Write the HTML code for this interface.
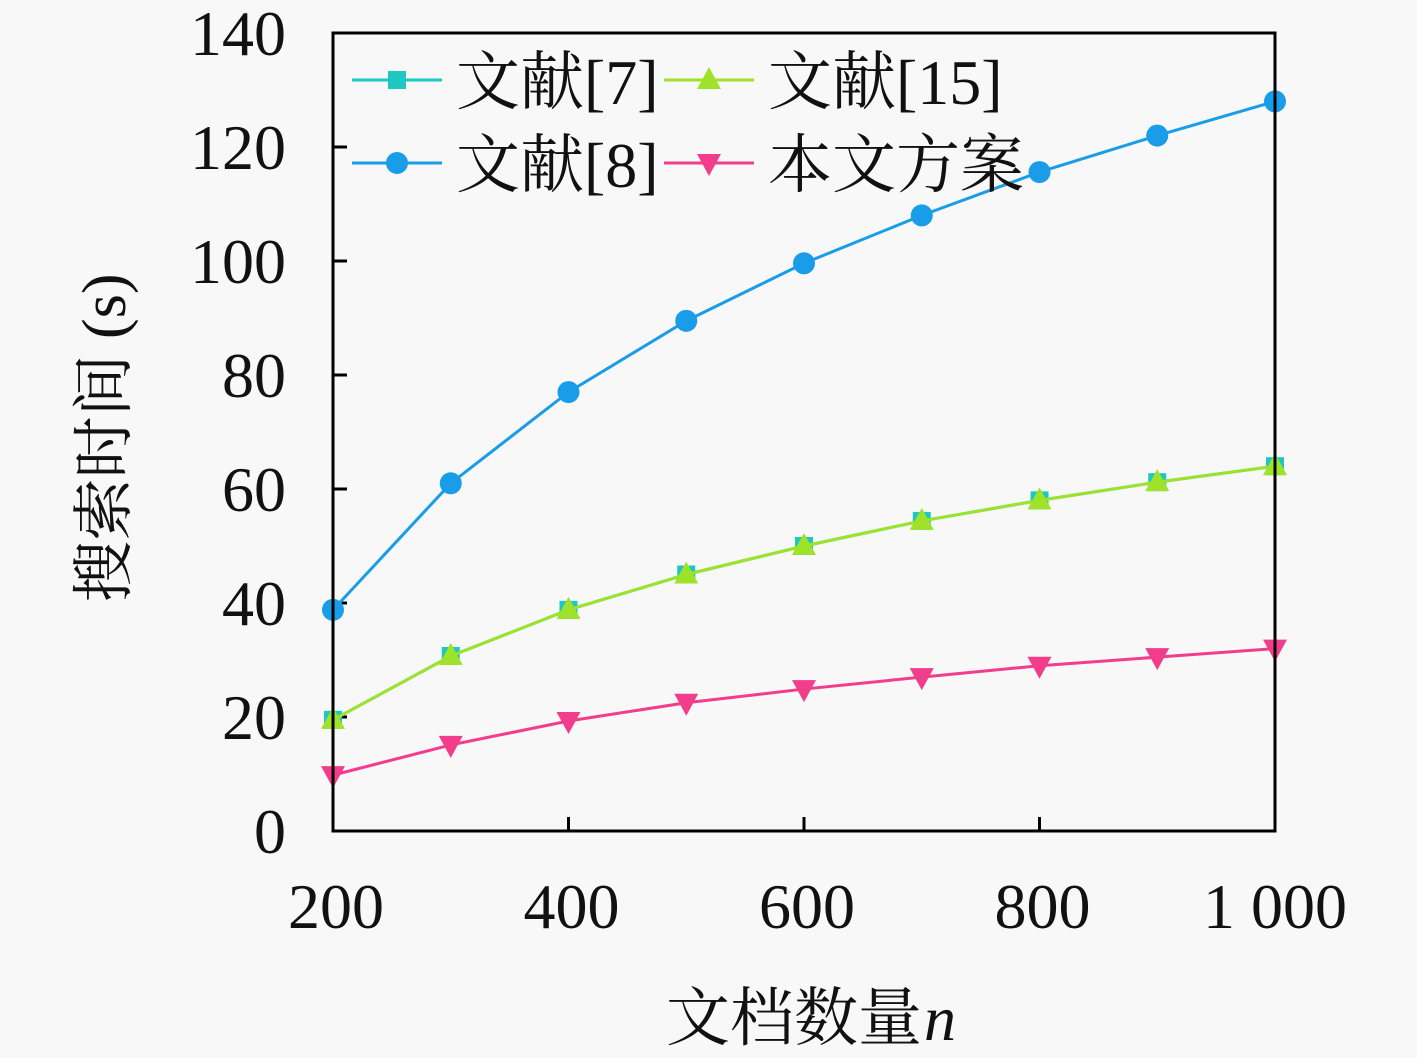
<!DOCTYPE html>
<html><head><meta charset="utf-8"><style>
html,body{margin:0;padding:0;background:#f8f8f8;}
svg{display:block;}
text{font-family:"Liberation Serif","Noto Serif CJK SC",serif;fill:#111;}
</style></head><body>
<svg id="chart" width="1417" height="1058" viewBox="0 0 1417 1058">
<rect x="0" y="0" width="1417" height="1058" fill="#f8f8f8"/>
<g id="grid"></g>
<g id="series"></g>
<rect x="333" y="33" width="942" height="798" fill="none" stroke="#000" stroke-width="3"/>
<text x="922" y="1040" font-size="64" text-anchor="end">文档数量</text>
<text x="924" y="1040" font-size="64" font-style="italic">n</text>
<text transform="translate(125,438) rotate(-90)" font-size="62" text-anchor="middle">搜索时间 (s)</text>
<g id="legend"></g>
</svg>
<script>
const xCats=[200,300,400,500,600,700,800,900,1000];
const xTicks=[200,400,600,800,1000];
const xTickLabels=["200","400","600","800","1 000"];
const yTicks=[0,20,40,60,80,100,120,140];
const ref7=[19.5,30.7,38.8,45,50,54.4,58,61.2,64];
const ref8=[38.8,61,77,89.5,99.6,108,115.6,122,128];
const ref15=[19.5,30.7,38.8,45,50,54.4,58,61.2,64];
const ours=[9.8,15.1,19.3,22.5,24.9,27,29,30.5,32];
const NS="http://www.w3.org/2000/svg";
const X0=333,X1=1275,Y0=831,Y1=33;
function sx(v){return X0+(v-200)/800*(X1-X0);}
function sy(v){return Y0-v/140*(Y0-Y1);}
function mk(tag,attrs,parent){const e=document.createElementNS(NS,tag);for(const k in attrs)e.setAttribute(k,attrs[k]);parent.appendChild(e);return e;}
const grid=document.getElementById('grid');
yTicks.forEach(v=>{
  const l=mk('line',{x1:X0,x2:X0+14,y1:sy(v),y2:sy(v),stroke:'#000','stroke-width':3},grid);
  
  
  const t=mk('text',{x:286,y:sy(v)+22,'font-size':64,'text-anchor':'end'},grid);
  t.textContent=v;
  
  
});
xTicks.forEach((v,i)=>{
  const l=mk('line',{x1:sx(v),x2:sx(v),y1:Y0,y2:Y0-14,stroke:'#000','stroke-width':3},grid);
  
  
  const t=mk('text',{x:sx(v)+(i==4?0:3),y:928,'font-size':64,'text-anchor':'middle'},grid);
  t.textContent=xTickLabels[i];
  
  
});
function marker(type,x,y,color,parent){
  let e;
  if(type==='sq') e=mk('rect',{x:x-9,y:y-9,width:18,height:18,fill:color},parent);
  else if(type==='ci') e=mk('circle',{cx:x,cy:y,r:11,fill:color},parent);
  else if(type==='up') e=mk('polygon',{points:`${x},${y-13} ${x-12},${y+9} ${x+12},${y+9}`,fill:color},parent);
  else e=mk('polygon',{points:`${x},${y+13} ${x-12},${y-9} ${x+12},${y-9}`,fill:color},parent);
  return e;
}
const seriesList=[
 {name:'ref7',data:ref7,color:'#1cc7c4',m:'sq'},
 {name:'ref15',data:ref15,color:'#9ee22a',m:'up'},
 {name:'ref8',data:ref8,color:'#1a9de8',m:'ci'},
 {name:'ours',data:ours,color:'#f23c8c',m:'dn'}
];
const sg=document.getElementById('series');
seriesList.forEach(s=>{
  const g=mk('g',{},sg);
  
  
  const pl=mk('polyline',{points:s.data.map((v,i)=>sx(xCats[i])+','+sy(v)).join(' '),fill:'none',stroke:s.color,'stroke-width':3},g);
  
  
  s.data.forEach((v,i)=>{
    const m=marker(s.m,sx(xCats[i]),sy(v),s.color,g);
    
    
  });
});
const lg=document.getElementById('legend');
const entries=[
 {label:'文献[7]',color:'#1cc7c4',m:'sq',x:352,y:80},
 {label:'文献[15]',color:'#9ee22a',m:'up',x:664,y:80},
 {label:'文献[8]',color:'#1a9de8',m:'ci',x:352,y:163},
 {label:'本文方案',color:'#f23c8c',m:'dn',x:664,y:163}
];
entries.forEach(e=>{
  const g=mk('g',{},lg);
  
  
  mk('line',{x1:e.x,x2:e.x+90,y1:e.y,y2:e.y,stroke:e.color,'stroke-width':3},g);
  marker(e.m,e.x+45,e.y,e.color,g);
  const t=mk('text',{x:e.x+104,y:e.y+24,'font-size':64},g);
  t.textContent=e.label;
});
</script>
</body></html>
